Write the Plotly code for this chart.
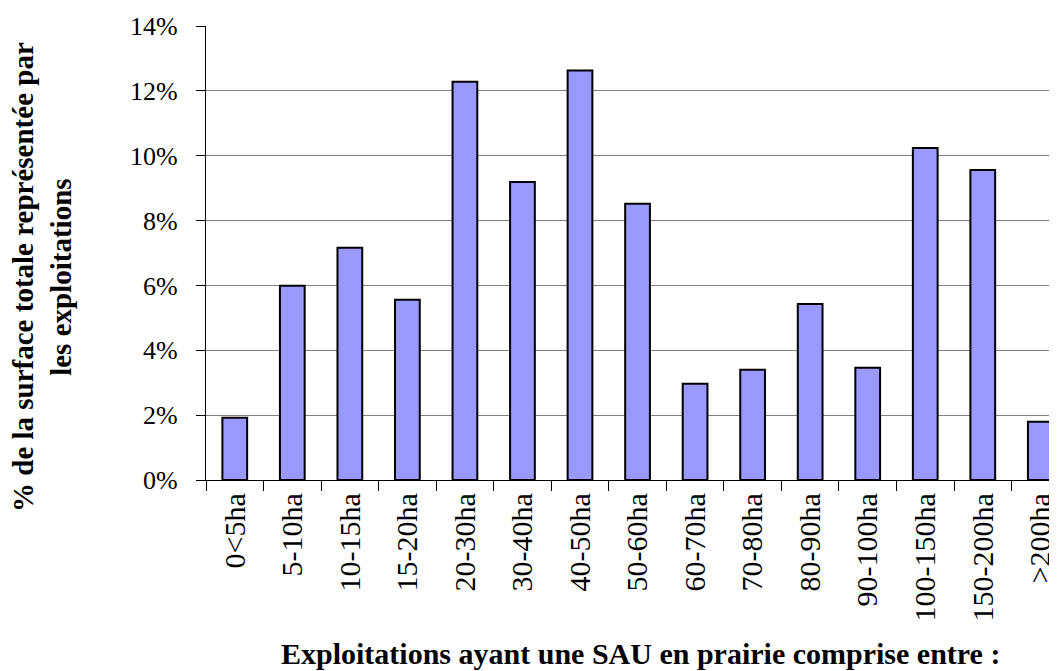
import plotly.graph_objects as go

categories = ["0<5ha", "5-10ha", "10-15ha", "15-20ha", "20-30ha", "30-40ha", "40-50ha",
              "50-60ha", "60-70ha", "70-80ha", "80-90ha", "90-100ha", "100-150ha",
              "150-200ha", ">200ha"]
values = [1.92, 5.99, 7.16, 5.56, 12.28, 9.19, 12.63, 8.52, 2.97, 3.40, 5.43, 3.46,
          10.24, 9.56, 1.80]
y_ticks = [0, 2, 4, 6, 8, 10, 12, 14]
y_tick_labels = ["0%", "2%", "4%", "6%", "8%", "10%", "12%", "14%"]

FONT = "Liberation Serif, Times New Roman, serif"

W, H = 1049, 663
L, R, T, B = 198, 0, 18, 191
PW, PH = W - L - R, H - T - B

fig = go.Figure()
fig.add_trace(go.Bar(
    x=categories,
    y=values,
    marker=dict(color="#9999FF", line=dict(color="black", width=2)),
    hoverinfo="x+y",
))

fig.update_layout(
    width=W,
    height=H,
    margin=dict(l=L, r=R, t=T, b=B),
    paper_bgcolor="white",
    plot_bgcolor="white",
    bargap=0.57,
    showlegend=False,
    font=dict(family=FONT, color="black"),
    xaxis=dict(
        type="category",
        range=[-0.5, 14.29],
        showgrid=False,
        showline=True,
        linecolor="black",
        linewidth=1.3,
        ticks="outside",
        tickson="boundaries",
        ticklen=10,
        tickcolor="black",
        tickwidth=1,
        tickangle=-90,
        tickfont=dict(family=FONT, size=30, color="black"),
        fixedrange=True,
    ),
    yaxis=dict(
        range=[0, 14],
        tickvals=y_ticks,
        ticktext=y_tick_labels,
        showgrid=True,
        gridcolor="#808080",
        gridwidth=1.3,
        showline=True,
        linecolor="black",
        linewidth=1.3,
        ticks="outside",
        ticklen=9,
        tickcolor="black",
        tickwidth=1,
        ticklabelstandoff=13,
        tickfont=dict(family=FONT, size=26, color="black"),
        zeroline=False,
        fixedrange=True,
    ),
)

fig.add_annotation(
    text="<b>% de la surface totale représentée par<br>les exploitations</b>",
    xref="paper", yref="paper",
    x=(34 - L) / PW, y=(T + PH - 269) / PH,
    xanchor="center", yanchor="middle",
    textangle=-90,
    showarrow=False,
    font=dict(family=FONT, size=29, color="black"),
)

fig.add_annotation(
    text="<b>Exploitations ayant une SAU en prairie comprise entre :</b>",
    xref="paper", yref="paper",
    x=(632 - L) / PW, y=-(645 - (T + PH)) / PH,
    xanchor="center", yanchor="middle",
    showarrow=False,
    font=dict(family=FONT, size=30, color="black"),
)

fig.write_html("out.html")
